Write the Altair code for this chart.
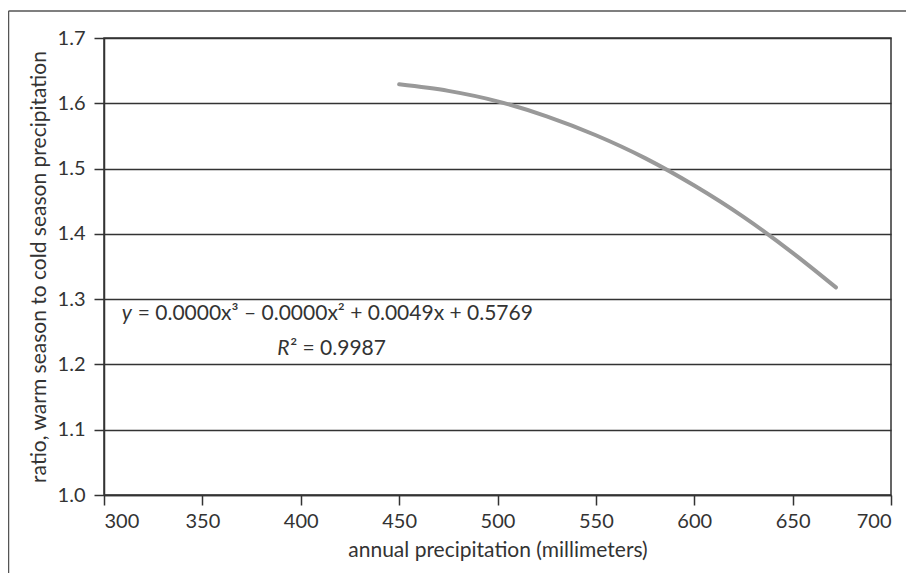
import altair as alt
import pandas as pd

# curve
precip = [450, 475, 500, 525, 550, 575, 600, 625, 650, 672]
ratio = [1.629, 1.619, 1.603, 1.580, 1.551, 1.516, 1.474, 1.426, 1.371, 1.318]

x_ticks = [300, 350, 400, 450, 500, 550, 600, 650, 700]
y_ticks = [1.0, 1.1, 1.2, 1.3, 1.4, 1.5, 1.6, 1.7]

eq_italic = ["y", "R"]
eq_rest = ["= 0.0000x³ – 0.0000x² + 0.0049x + 0.5769", "² = 0.9987"]
eq_x = [309, 388]
eq_y = [1.268, 1.214]

FONT = "Lato"
INK = "#333333"
FS = 21

df = pd.DataFrame({"precip": precip, "ratio": ratio})
ann = pd.DataFrame({"it": eq_italic, "rest": eq_rest, "x": eq_x, "y": eq_y})

xs = alt.Scale(domain=[300, 700], nice=False, zero=False)
ys = alt.Scale(domain=[1.0, 1.7], nice=False, zero=False)

line = alt.Chart(df).mark_line(color="#999999", strokeWidth=4, strokeCap="round",
                               interpolate="monotone").encode(
    x=alt.X("precip:Q", scale=xs,
            axis=alt.Axis(values=x_ticks, title="annual precipitation (millimeters)",
                          grid=False, format="d")),
    y=alt.Y("ratio:Q", scale=ys,
            axis=alt.Axis(values=y_ticks, title="ratio, warm season to cold season precipitation",
                          grid=True, format=".1f")),
)

t_it = alt.Chart(ann).mark_text(align="left", baseline="alphabetic", font=FONT,
                                fontSize=FS, fontStyle="italic", color=INK).encode(
    x=alt.X("x:Q", scale=xs), y=alt.Y("y:Q", scale=ys), text="it:N")

t_rest_y = alt.Chart(ann.iloc[[0]]).mark_text(align="left", baseline="alphabetic", font=FONT,
                                fontSize=FS, color=INK, dx=16).encode(
    x=alt.X("x:Q", scale=xs), y=alt.Y("y:Q", scale=ys), text="rest:N")
t_rest_r = alt.Chart(ann.iloc[[1]]).mark_text(align="left", baseline="alphabetic", font=FONT,
                                fontSize=FS, color=INK, dx=13).encode(
    x=alt.X("x:Q", scale=xs), y=alt.Y("y:Q", scale=ys), text="rest:N")

frame_src = alt.Data(values=[{"k": 0}])
frame_top = alt.Chart(frame_src).mark_rule(color="#555555", strokeWidth=1.5).encode(
    x=alt.value(-95.5), x2=alt.value(802), y=alt.value(-27))
frame_left = alt.Chart(frame_src).mark_rule(color="#555555", strokeWidth=1.5).encode(
    x=alt.value(-95.5), y=alt.value(-27), y2=alt.value(535))

chart = alt.layer(frame_top, frame_left, line, t_it, t_rest_y, t_rest_r).properties(
    width=787, height=457,
    padding={"left": 96, "top": 30, "right": 15, "bottom": 78},
    autosize=alt.AutoSizeParams(type="none"),
).configure_view(
    stroke=INK, strokeWidth=1.5
).configure_axis(
    domainColor=INK, domainWidth=1.5, tickColor=INK, tickWidth=1.5, tickSize=10,
    gridColor=INK, gridWidth=1.3, gridOpacity=1,
    labelFont=FONT, labelFontSize=20, labelColor=INK,
    titleFont=FONT, titleFontSize=21, titleFontWeight="normal", titleColor=INK,
).configure_axisX(labelPadding=6, titlePadding=8).configure_axisY(labelPadding=9, titlePadding=8)

chart.save("out.html", embed_options={"renderer": "svg", "actions": False})
